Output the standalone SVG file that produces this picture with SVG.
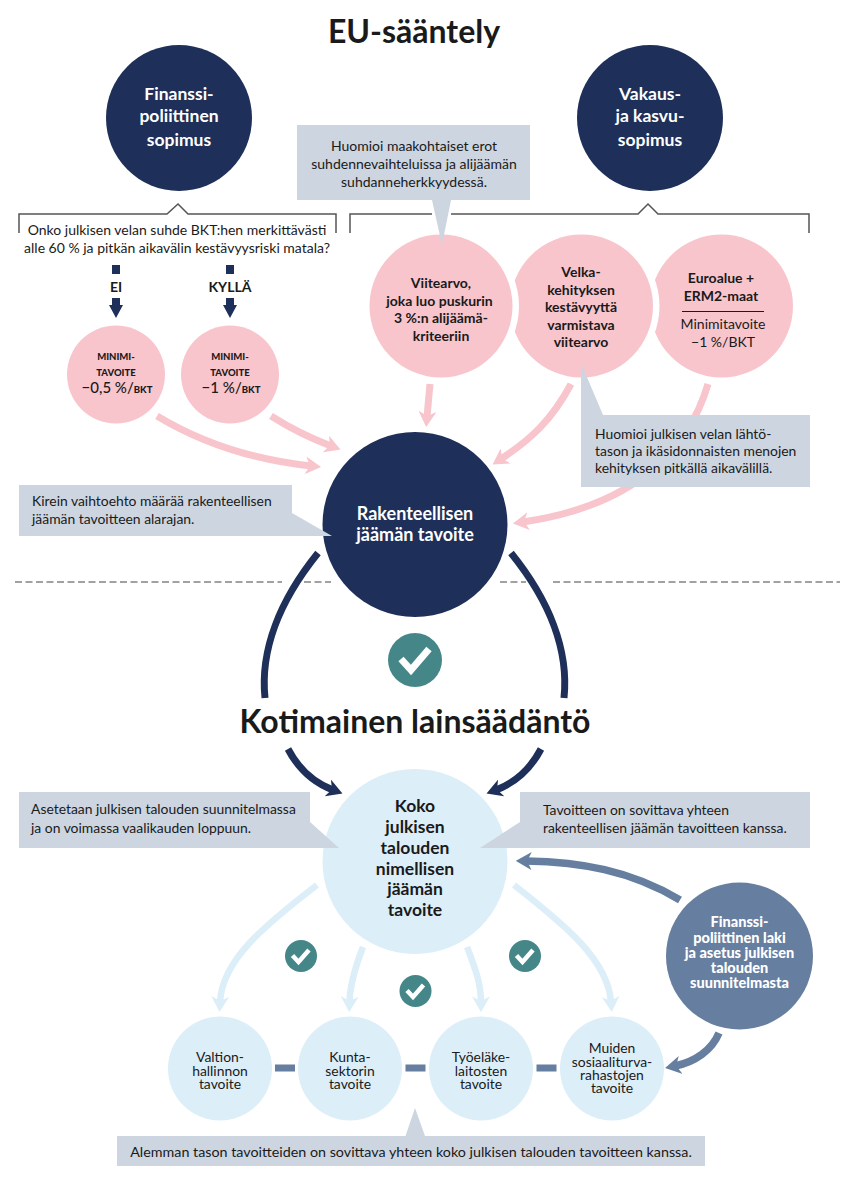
<svg xmlns="http://www.w3.org/2000/svg" width="858" height="1190" viewBox="0 0 858 1190">
<style>
text{font-family:"Lato","Liberation Sans",sans-serif;fill:#1a1a1a;text-anchor:middle;font-size:13.9px}
.l{text-anchor:start}
.b{font-weight:700;font-size:14px}
.w{fill:#fff;font-weight:700;font-size:17.5px}
.h{font-weight:700;font-size:17.5px}
.s{fill:#fff;font-weight:900;font-size:14.5px}
.pk{fill:#f8c5cd}.nv{fill:#1e3059}.lb{fill:#dceef8}.sl{fill:#667e9f}.gr{fill:#ccd5e0}.tl{fill:#458789}
.halo{fill:#fff}
.mm{font-size:9.5px;font-weight:900}
.pct{font-size:15px;font-weight:500}
.fr{fill:none;stroke:#555;stroke-width:1.5}
.c{fill:none}
.cp{stroke:#f8c5cd;stroke-width:7}
.cn{stroke:#1e3059;stroke-width:7}
.cs{stroke:#667e9f;stroke-width:7.5}
.cl{stroke:#dceef8;stroke-width:6.500}
.ck{fill:none;stroke:#fff}
.dash{stroke:#444;stroke-width:1.2;stroke-dasharray:7 3.5}
</style>
<defs>
<marker id="ap" markerUnits="userSpaceOnUse" markerWidth="16" markerHeight="18" refX="5" refY="8" orient="auto" viewBox="0 0 14 16"><path d="M0 0L14 8L0 16L4 8z" fill="#f8c5cd"/></marker>
<marker id="an" markerUnits="userSpaceOnUse" markerWidth="16" markerHeight="18" refX="5" refY="8" orient="auto" viewBox="0 0 14 16"><path d="M0 0L14 8L0 16L4 8z" fill="#1e3059"/></marker>
<marker id="as" markerUnits="userSpaceOnUse" markerWidth="16" markerHeight="18" refX="5" refY="8" orient="auto" viewBox="0 0 14 16"><path d="M0 0L14 8L0 16L4 8z" fill="#667e9f"/></marker>
<marker id="al" markerUnits="userSpaceOnUse" markerWidth="16" markerHeight="18" refX="5" refY="8" orient="auto" viewBox="0 0 14 16"><path d="M0 0L14 8L0 16L4 8z" fill="#dceef8"/></marker>
</defs>
<rect width="858" height="1190" fill="#fff"/>
<text id="title-eu" x="414" y="43" style="font-size:32px;font-weight:700">EU-sääntely</text>
<text id="title-kot" x="415" y="733" style="font-size:32px;font-weight:700">Kotimainen lainsäädäntö</text>

<g id="divider">
<path class="dash" d="M15 582H282M304 582H331M500 582H526M553 582H840"/>
</g>

<g id="brackets">
<path class="fr" d="M19 233V214H167L178 204L188 214H336V233"/>
<path class="fr" d="M350 233V214H432M451 214H638L648 204L658 214H809V233"/>
</g>

<g id="connectors">
<path class="c cp" d="M157 416C205 445 255 460 311 466" marker-end="url(#ap)"/>
<path class="c cp" d="M271 416C290 428 310 438 331 446" marker-end="url(#ap)"/>
<path class="c cp" d="M430 384C429 395 428 405 427 417" marker-end="url(#ap)"/>
<path class="c cp" d="M571 384C552 420 530 440 501 459" marker-end="url(#ap)"/>
<path class="c cp" d="M708 384C690 445 640 505 523 522" marker-end="url(#ap)"/>
<path class="c cn" d="M318 553C280 600 260 650 265 698"/>
<path class="c cn" d="M511 553C549 600 569 650 564 698"/>
<path class="c cn" d="M288 749C298 768 312 782 333 790" marker-end="url(#an)"/>
<path class="c cn" d="M541 749C531 768 517 782 496 790" marker-end="url(#an)"/>
<path class="c cs" d="M680 900C630 870 580 862 526 861" marker-end="url(#as)"/>
<path class="c cs" d="M719 1033C712 1050 695 1062 675 1066" marker-end="url(#as)"/>
<path class="c cl" d="M317 885C265 925 222 960 220 1002" marker-end="url(#al)"/>
<path class="c cl" d="M363 947C354 970 350 985 349.5 1002" marker-end="url(#al)"/>
<path class="c cl" d="M467 947C476 970 481 985 481 1002" marker-end="url(#al)"/>
<path class="c cl" d="M514 885C565 925 608 960 611 1002" marker-end="url(#al)"/>
<path class="nv" d="M112 265h8v9h-8zM226 265h8v9h-8z"/>
<path class="nv" d="M112 298h8v7h3l-7 13l-7-13h3zM226 298h8v7h3l-7 13l-7-13h3z"/>
<path class="sl" d="M275 1064.500h20v7h-20zM405.500 1064.500h20v7h-20zM536.500 1064.500h20v7h-20z"/>
</g>

<g id="node-finanssi"><circle class="nv" cx="179" cy="118" r="73"/><text class="w" x="179" y="100">Finanssi-</text><text class="w" x="179" y="122">poliittinen</text><text class="w" x="179" y="146">sopimus</text></g>
<g id="node-vakaus"><circle class="nv" cx="650" cy="118" r="73"/><text class="w" x="650" y="100">Vakaus-</text><text class="w" x="650" y="122">ja kasvu-</text><text class="w" x="650" y="146">sopimus</text></g>

<g id="node-question"><text x="177" y="235" style="font-size:14px">Onko julkisen velan suhde BKT:hen merkittävästi</text><text x="177" y="253" style="font-size:14px">alle 60 % ja pitkän aikavälin kestävyysriski matala?</text></g>
<text id="label-ei" class="b" x="116" y="292">EI</text>
<text id="label-kylla" class="b" x="230" y="292">KYLLÄ</text>

<g id="node-min05"><circle class="pk" cx="116" cy="374.500" r="49"/><text class="mm" x="116" y="360">MINIMI-</text><text class="mm" x="116" y="376">TAVOITE</text><text class="pct" x="117" y="393">−0,5 %/<tspan class="mm">BKT</tspan></text></g>
<g id="node-min1"><circle class="pk" cx="230" cy="374.500" r="49"/><text class="mm" x="230" y="360">MINIMI-</text><text class="mm" x="230" y="376">TAVOITE</text><text class="pct" x="231" y="393">−1 %/<tspan class="mm">BKT</tspan></text></g>

<g id="node-euro"><circle class="pk" cx="721.500" cy="306" r="71.500"/><text class="b" x="721" y="283">Euroalue +</text><text class="b" x="721" y="301">ERM2-maat</text><path d="M682 311.500H764" stroke="#1a1a1a" stroke-width="1"/><text x="723" y="329" style="font-size:14px">Minimitavoite</text><text x="723" y="347" style="font-size:14px">−1 %/BKT</text></g>
<g id="node-velka"><circle class="halo" cx="581.500" cy="306" r="78"/><circle class="pk" cx="581.500" cy="306" r="71.500"/><text class="b" x="581" y="277">Velka-</text><text class="b" x="581" y="295">kehityksen</text><text class="b" x="581" y="312">kestävyyttä</text><text class="b" x="581" y="330">varmistava</text><text class="b" x="581" y="347">viitearvo</text></g>
<g id="node-viitearvo"><circle class="halo" cx="441" cy="306" r="78"/><circle class="pk" cx="441" cy="306" r="71.500"/><text class="b" x="441" y="288">Viitearvo,</text><text class="b" x="439.500" y="306">joka luo puskurin</text><text class="b" x="441" y="323">3 %:n alijäämä-</text><text class="b" x="441" y="341">kriteeriin</text></g>

<g id="node-rakenteellinen"><circle class="nv" cx="415" cy="524.500" r="92.500"/><text class="w" style="font-size:18px" x="415" y="520">Rakenteellisen</text><text class="w" style="font-size:18px" x="415" y="541">jäämän tavoite</text></g>
<g id="check-main"><circle class="tl" cx="415" cy="660" r="27"/><path class="ck" stroke-width="7" d="M401 659L411 670L429 649"/></g>

<g id="node-koko"><circle class="lb" cx="415" cy="861.500" r="92.500"/><text class="h" x="415" y="812">Koko</text><text class="h" x="415" y="833">julkisen</text><text class="h" x="415" y="853.500">talouden</text><text class="h" x="415" y="874.500">nimellisen</text><text class="h" x="415" y="895">jäämän</text><text class="h" x="415" y="916">tavoite</text></g>

<g id="node-laki"><circle class="sl" cx="739.500" cy="956" r="73.500"/><text class="s" x="739.500" y="927">Finanssi-</text><text class="s" x="739.500" y="943">poliittinen laki</text><text class="s" x="739.500" y="958">ja asetus julkisen</text><text class="s" x="739.500" y="973">talouden</text><text class="s" x="739.500" y="988">suunnitelmasta</text></g>

<g id="check-1"><circle class="tl" cx="301" cy="956" r="16"/><path class="ck" stroke-width="4.500" d="M292.500 955.500L298.500 962L309 950"/></g>
<g id="check-2"><circle class="tl" cx="415.500" cy="991" r="16"/><path class="ck" stroke-width="4.500" d="M407 990.500L413 997L423.500 985"/></g>
<g id="check-3"><circle class="tl" cx="525" cy="956" r="16"/><path class="ck" stroke-width="4.500" d="M516.500 955.500L522.500 962L533 950"/></g>

<g id="node-valtio"><circle class="lb" cx="220" cy="1068.500" r="52"/><text x="220" y="1062">Valtion-</text><text x="220" y="1075.500">hallinnon</text><text x="220" y="1089">tavoite</text></g>
<g id="node-kunta"><circle class="lb" cx="350" cy="1068.500" r="52"/><text x="350" y="1062">Kunta-</text><text x="350" y="1075.500">sektorin</text><text x="350" y="1089">tavoite</text></g>
<g id="node-tyoelake"><circle class="lb" cx="481" cy="1068.500" r="52"/><text x="481" y="1062">Työeläke-</text><text x="481" y="1075.500">laitosten</text><text x="481" y="1089">tavoite</text></g>
<g id="node-muut"><circle class="lb" cx="612" cy="1068.500" r="52"/><text x="612" y="1053">Muiden</text><text x="612" y="1067">sosiaaliturva-</text><text x="612" y="1080">rahastojen</text><text x="612" y="1093">tavoite</text></g>

<g id="note-maakohtaiset"><path class="gr" d="M297 125H530V200H451L442 245L432 200H297z"/><text x="414" y="151" style="font-size:14px">Huomioi maakohtaiset erot</text><text x="414" y="169" style="font-size:14px">suhdennevaihteluissa ja alijäämän</text><text x="414" y="187" style="font-size:14px">suhdanneherkkyydessä.</text></g>
<g id="note-lahto"><path class="gr" d="M581 363L603 415H810V487H581z"/><text class="l" x="595" y="439">Huomioi julkisen velan lähtö-</text><text class="l" x="595" y="456">tason ja ikäsidonnaisten menojen</text><text class="l" x="595" y="473">kehityksen pitkällä aikavälillä.</text></g>
<g id="note-kirein"><path class="gr" d="M19 485H292V513L332 536H19z"/><text class="l" x="32" y="506">Kirein vaihtoehto määrää rakenteellisen</text><text class="l" x="32" y="524">jäämän tavoitteen alarajan.</text></g>
<g id="note-asetetaan"><path class="gr" d="M19 792H310V822L339 848H19z"/><text class="l" x="31" y="814">Asetetaan julkisen talouden suunnitelmassa</text><text class="l" x="31" y="833">ja on voimassa vaalikauden loppuun.</text></g>
<g id="note-tavoitteen"><path class="gr" d="M520 792H810V848H480L520 822z"/><text class="l" x="543" y="815">Tavoitteen on sovittava yhteen</text><text class="l" x="543" y="833">rakenteellisen jäämän tavoitteen kanssa.</text></g>
<g id="note-alemman"><path class="gr" d="M117 1136H405.500L415 1108L425 1136H705V1166H117z"/><text x="411" y="1157" style="font-size:14.300px">Alemman tason tavoitteiden on sovittava yhteen koko julkisen talouden tavoitteen kanssa.</text></g>
</svg>
